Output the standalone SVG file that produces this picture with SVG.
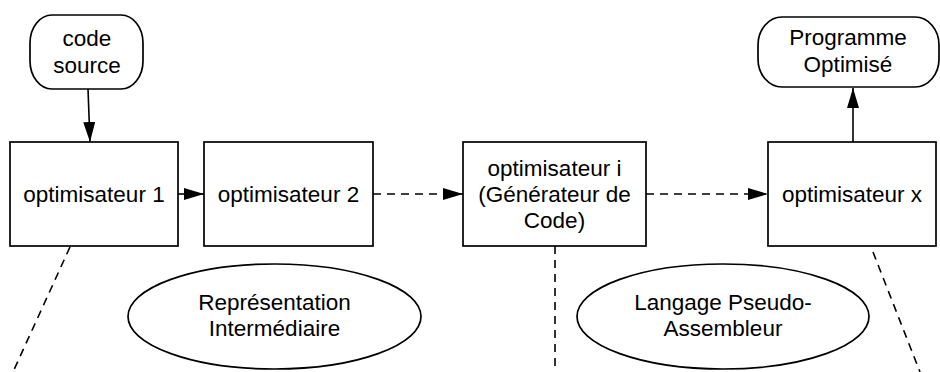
<svg xmlns="http://www.w3.org/2000/svg" width="940" height="372" viewBox="0 0 940 372">
  <defs>
    <style>
      .shape { fill: #ffffff; stroke: #000000; stroke-width: 1.7; }
      .label { font-family: "Liberation Sans", Arial, Helvetica, sans-serif; font-size: 22.5px; fill: #000000; text-anchor: middle; }
      .link { fill: none; stroke: #000000; stroke-width: 1.6; }
      .dash { stroke-dasharray: 8 6; }
      .arrow { marker-end: url(#head); }
    </style>
    <marker id="head" viewBox="0 0 20 12" refX="20" refY="6" markerWidth="20" markerHeight="12" markerUnits="userSpaceOnUse" orient="auto">
      <path d="M0,0 L20,6 L0,12 Z" fill="#000000"/>
    </marker>
  </defs>

  <!-- connectors -->
  <g id="connectors">
    <line class="link arrow" x1="88" y1="89" x2="90" y2="142"/>
    <line class="link arrow" x1="178" y1="194" x2="204" y2="194"/>
    <line class="link dash arrow" x1="373" y1="194" x2="463" y2="194"/>
    <line class="link dash arrow" x1="646" y1="194" x2="768" y2="194"/>
    <line class="link arrow" x1="853" y1="142" x2="853" y2="88"/>
    <line class="link dash" x1="70" y1="247" x2="13" y2="372"/>
    <line class="link dash" x1="555" y1="246" x2="555" y2="372"/>
    <line class="link dash" x1="873" y1="252" x2="920" y2="372"/>
  </g>

  <g id="code-source">
    <rect class="shape" x="30" y="15" width="113" height="74" rx="22" ry="28"/>
    <text class="label" x="87" y="46">code</text>
    <text class="label" x="87" y="73">source</text>
  </g>

  <g id="optimiseur-1">
    <rect class="shape" x="10" y="142" width="168" height="104"/>
    <text class="label" x="94" y="202">optimisateur 1</text>
  </g>

  <g id="optimiseur-2">
    <rect class="shape" x="204" y="142" width="169" height="104"/>
    <text class="label" x="288.5" y="202">optimisateur 2</text>
  </g>

  <g id="optimiseur-i">
    <rect class="shape" x="463" y="142" width="183" height="104"/>
    <text class="label" x="554.5" y="176">optimisateur i</text>
    <text class="label" x="554.5" y="202">(Générateur de</text>
    <text class="label" x="554.5" y="228">Code)</text>
  </g>

  <g id="optimiseur-x">
    <rect class="shape" x="768" y="142" width="168" height="104"/>
    <text class="label" x="852" y="202">optimisateur x</text>
  </g>

  <g id="programme-optimise">
    <rect class="shape" x="758" y="17" width="181" height="70" rx="24" ry="28"/>
    <text class="label" x="848" y="45">Programme</text>
    <text class="label" x="848" y="72">Optimisé</text>
  </g>

  <g id="representation-intermediaire">
    <ellipse class="shape" cx="274.5" cy="316.5" rx="146.5" ry="52.5"/>
    <text class="label" x="274.5" y="310">Représentation</text>
    <text class="label" x="274.5" y="336">Intermédiaire</text>
  </g>

  <g id="langage-pseudo-assembleur">
    <ellipse class="shape" cx="723" cy="316.5" rx="146" ry="52.5"/>
    <text class="label" x="723" y="310">Langage Pseudo-</text>
    <text class="label" x="723" y="336">Assembleur</text>
  </g>
</svg>
